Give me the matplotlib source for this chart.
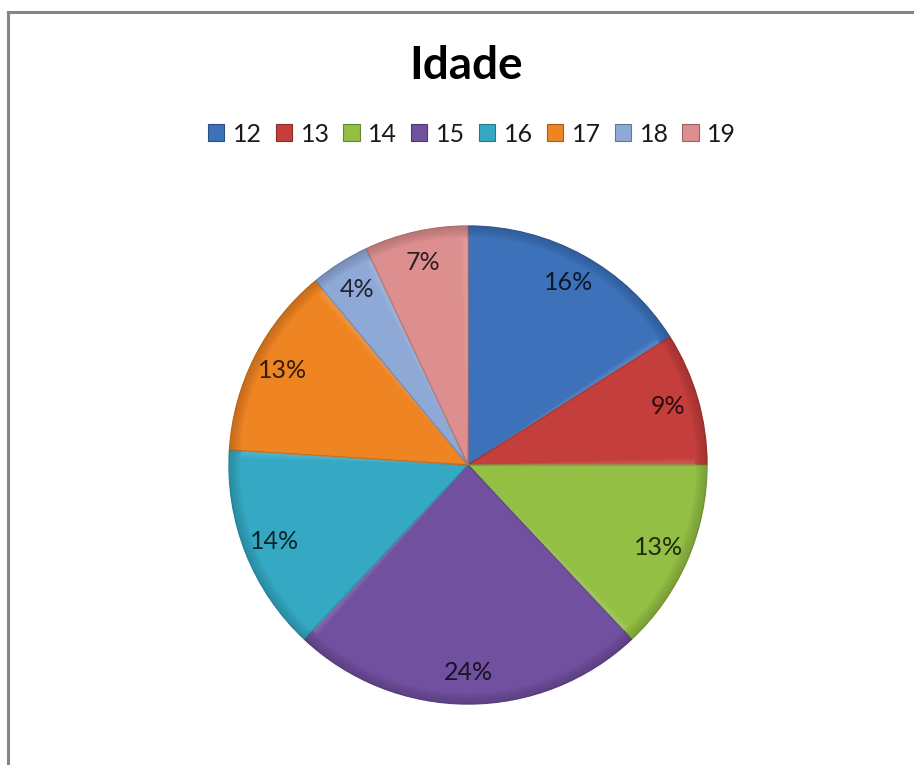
import numpy as np
import matplotlib.pyplot as plt
from matplotlib.patches import Wedge, Rectangle
from matplotlib.colors import to_rgb

plt.rcParams['font.family'] = ['Lato', 'DejaVu Sans']

titulo = 'Idade'
idades = ['12', '13', '14', '15', '16', '17', '18', '19']
percentuais = [16, 9, 13, 24, 14, 13, 4, 7]
cores = ['#3d72ba', '#c43f3c', '#93bf45', '#71509f', '#35a9c4',
         '#ef8423', '#8fa9d7', '#dc8f8e']


def escurecer(c, f):
    r, g, b = to_rgb(c)
    return (r * f, g * f, b * f)


def clarear(c, f):
    r, g, b = to_rgb(c)
    return (r + (1 - r) * f, g + (1 - g) * f, b + (1 - b) * f)


W, H = 914, 765
fig = plt.figure(figsize=(W / 100, H / 100), dpi=100)
fig.patch.set_facecolor('white')

# moldura do grafico (so as bordas de cima e da esquerda aparecem)
fig.add_artist(plt.Line2D([8 / W, 8 / W], [0, 1 - 12 / H], transform=fig.transFigure,
                          color='#858585', lw=2.2))
fig.add_artist(plt.Line2D([8 / W, 1], [1 - 12 / H, 1 - 12 / H], transform=fig.transFigure,
                          color='#858585', lw=2.2))

fig.text(466 / W, 1 - 66 / H, titulo, ha='center', va='center',
         fontsize=33, fontweight='bold', color='black')

cx, cy, R = 468, 465, 239
ax = fig.add_axes([(cx - R) / W, (H - cy - R) / H, 2 * R / W, 2 * R / H])

wedges, textos, autotextos = ax.pie(
    percentuais, colors=cores, startangle=90, counterclock=False, radius=1,
    autopct='%d%%', pctdistance=0.87,
    wedgeprops=dict(linewidth=1.0, edgecolor='none'),
    textprops=dict(fontsize=18, color='#262626'))
ax.set_xlim(-1, 1)
ax.set_ylim(-1, 1)
ax.set_aspect('equal')
ax.axis('off')

# efeito de chanfro: borda externa escurecida e faixa clara junto aos raios
for w, c in zip(wedges, cores):
    w.set_edgecolor(escurecer(c, 0.8))
    t1, t2 = w.theta1, w.theta2
    for k in range(8):
        r0 = 0.955 + k * 0.0056
        ax.add_patch(Wedge((0, 0), 1.0, t1, t2, width=1.0 - r0,
                           facecolor=escurecer(c, 0.78), edgecolor='none',
                           alpha=0.12, zorder=2))
    # faixa clara ao longo do raio inicial
    for k in range(5):
        ax.add_patch(Wedge((0, 0), 0.95, t1, t1 + 0.4 + k * 0.35, width=0.95,
                           facecolor=clarear(c, 0.5), edgecolor='none',
                           alpha=0.07, zorder=2))
for t, c in zip(autotextos, cores):
    t.set_zorder(5)
    t.set_color(escurecer(c, 0.22))

handles = [Rectangle((0, 0), 1, 1, facecolor=c, edgecolor=escurecer(c, 0.7), lw=0.8)
           for c in cores]
fig.legend(handles, idades, loc='center', bbox_to_anchor=(472 / W, 1 - 134 / H),
           ncol=8, frameon=False, fontsize=18, handlelength=0.65, handleheight=0.65,
           handletextpad=0.35, columnspacing=0.55, labelcolor='#1a1a1a')

fig.savefig('out.png', dpi=100, facecolor='white')
